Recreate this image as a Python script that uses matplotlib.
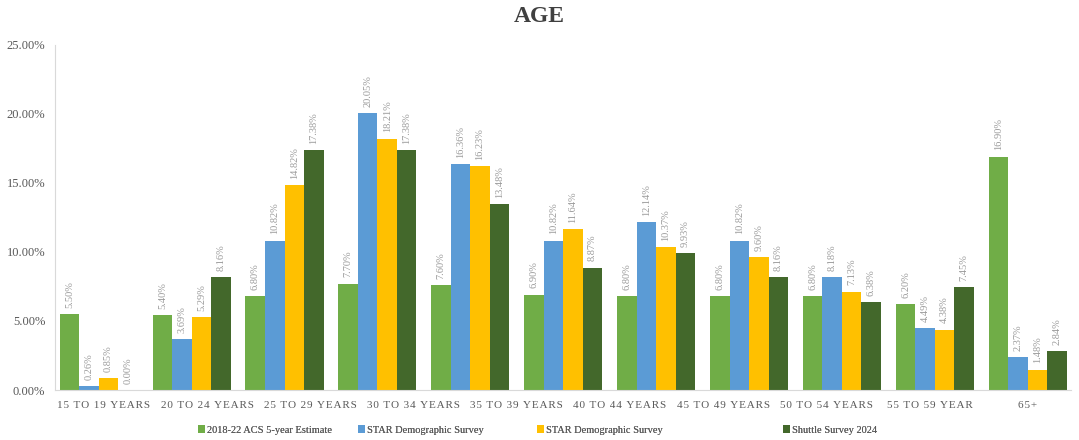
import matplotlib.pyplot as plt
import matplotlib.transforms as mtransforms
import numpy as np

# age group labels along the axis and shares (percent) for each source
axis_labels = ["15 TO 19 YEARS", "20 TO 24 YEARS", "25 TO 29 YEARS", "30 TO 34 YEARS",
               "35 TO 39 YEARS", "40 TO 44 YEARS", "45 TO 49 YEARS", "50 TO 54 YEARS",
               "55 TO 59 YEAR"]
last_label = "65+"
acs = [5.50, 5.40, 6.80, 7.70, 7.60, 6.90, 6.80, 6.80, 6.80, 6.20, 16.90]
star_a = [0.26, 3.69, 10.82, 20.05, 16.36, 10.82, 12.14, 10.82, 8.18, 4.49, 2.37]
star_b = [0.85, 5.29, 14.82, 18.21, 16.23, 11.64, 10.37, 9.60, 7.13, 4.38, 1.48]
shuttle = [0.00, 8.16, 17.38, 17.38, 13.48, 8.87, 9.93, 8.16, 6.38, 7.45, 2.84]

series = [
    ("2018-22 ACS 5-year Estimate", acs, "#70AD47"),
    ("STAR Demographic Survey", star_a, "#5B9BD5"),
    ("STAR Demographic Survey", star_b, "#FFC000"),
    ("Shuttle Survey 2024", shuttle, "#43682B"),
]

plt.rcParams['font.family'] = ['Liberation Serif', 'DejaVu Serif']
grey = "#595959"

fig = plt.figure(figsize=(10.79, 4.40), dpi=100)
ax = fig.add_axes([0.051, 0.1136, 0.942, 0.7845])

x = np.arange(len(acs))
w = 0.21
handles = []
for i, (name, vals, col) in enumerate(series):
    pos = x + (i - 1.5) * w
    bars = ax.bar(pos, np.array(vals) / 100, w, color=col, label=name)
    handles.append(bars)
    for b, v in zip(bars, vals):
        ax.annotate(f"{v:.2f}%", (b.get_x() + b.get_width() / 2, b.get_height()),
                    xytext=(0, 4.5), textcoords="offset points", rotation=90,
                    ha="center", va="bottom", fontsize=7.5, color="#9A9A9A")

ax.set_ylim(0, 0.25)
ax.set_xlim(-0.47, len(acs) - 0.53)
yt = np.arange(0, 0.26, 0.05)
ax.set_yticks(yt)
ax.set_yticklabels([f"{t * 100:.2f}%" for t in yt], fontsize=9, color=grey)
ax.set_xticks([])
ax.tick_params(length=0)
ax.tick_params(axis="y", pad=7)

# category text runs together across the first ten slots, 65+ sits under the last group
trans = mtransforms.blended_transform_factory(ax.transData, ax.transAxes)
n = len(axis_labels)
span = len(acs) - 1
for j, lab in enumerate(axis_labels):
    cx = -0.5 + (j + 0.5) * span / n
    ax.text(cx, -0.045, "\u200a".join(lab), transform=trans, ha="center", va="center",
            fontsize=8, color=grey)
ax.text(len(acs) - 1, -0.045, "\u200a".join(last_label), transform=trans,
        ha="center", va="center", fontsize=8, color=grey)

for s in ["top", "right"]:
    ax.spines[s].set_visible(False)
ax.spines["left"].set_color("#D9D9D9")
ax.spines["bottom"].set_color("#D9D9D9")

fig.text(0.5, 1 - 17 / 440, "AGE", ha="center", va="center", fontsize=17,
         fontweight="bold", color="#404040")

# one legend per entry so each can sit at its own spot
legend_x = [198, 358, 537, 783]
for h, (name, _, _), lx in zip(handles, series, legend_x):
    lg = fig.legend([h], [name], loc="center left", bbox_to_anchor=(lx / 1079, 1 - 430 / 440),
                    frameon=False, fontsize=7.5, handlelength=0.7, handleheight=0.7,
                    handletextpad=0.2, borderpad=0, borderaxespad=0, labelcolor=grey)
    fig.add_artist(lg)

fig.savefig("out.png", dpi=100)
